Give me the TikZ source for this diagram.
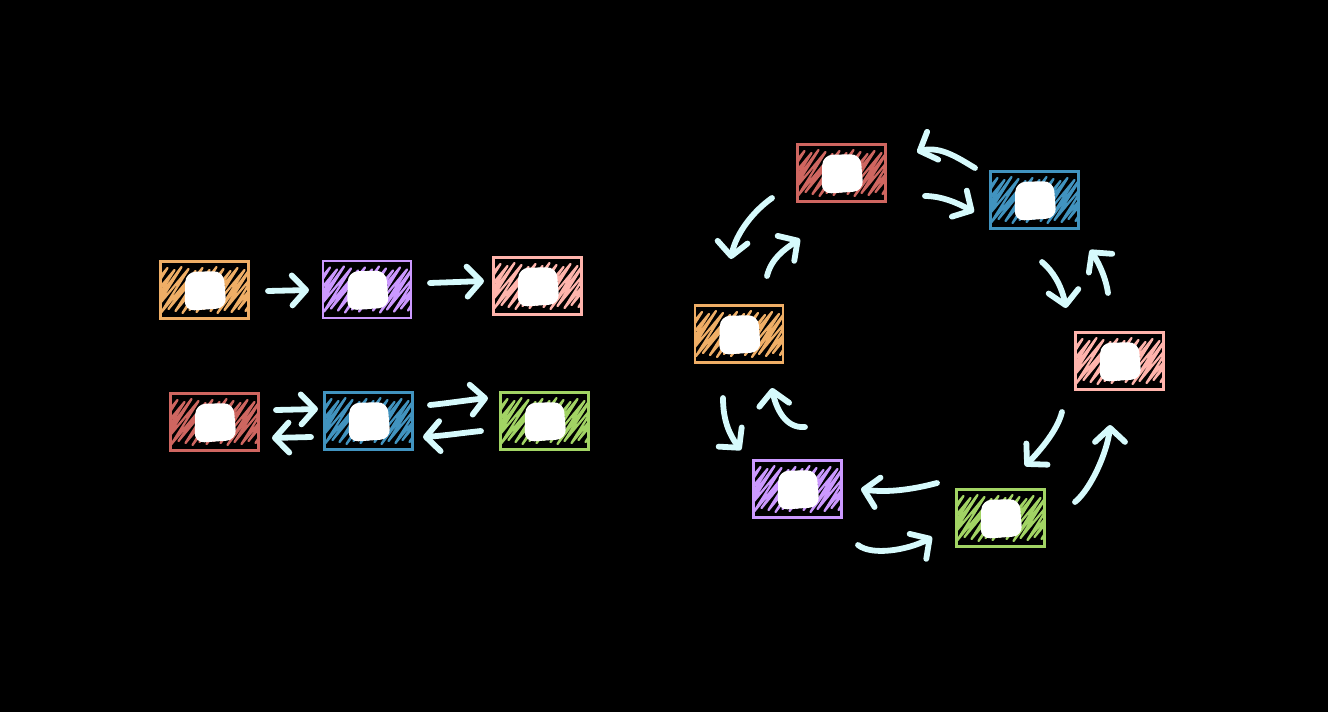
\documentclass[tikz,border=0pt]{standalone}
\usetikzlibrary{arrows.meta,bending}
\definecolor{cOr}{HTML}{EFAE66}
\definecolor{cPu}{HTML}{CC99FF}
\definecolor{cPk}{HTML}{FFB4AC}
\definecolor{cRd}{HTML}{CF6660}
\definecolor{cBl}{HTML}{4193BF}
\definecolor{cGr}{HTML}{A2D464}
\definecolor{cArr}{HTML}{D6FAFC}
\tikzset{
  sbox/.style={draw=#1, line width=2.8pt, minimum width=88pt, minimum height=57pt,
    inner sep=0pt, outer sep=0pt,
    path picture={\begin{scope}[shift={(path picture bounding box.center)}]
      \draw[#1, line width=2.3pt, line join=round, line cap=round]
        (-78,21) \foreach \i in {0,...,18}{ -- ({-78+7*\i+34},{-19-mod(\i*3,5)}) -- ({-78+7*\i+7},{19+mod(\i*2,5)}) };
      \fill[white, rounded corners=10pt] (-19,-18) -- (19,-19) -- (22,18) -- (-20,21) -- cycle;
    \end{scope}}},
  arr/.style={draw=cArr, line width=5.8pt, line cap=round,
    -{Straight Barb[round,length=14pt,width=30pt]}},
}
\begin{document}
\begin{tikzpicture}[x=1pt,y=-1pt]
\fill[black] (0,0) rectangle (1328,712);
\useasboundingbox (0,0) rectangle (1328,712);
% left group
\node[sbox=cOr] (L1) at (204.5,290) {};
\node[sbox=cPu] (L2) at (367,289.5) {};
\node[sbox=cPk] (L3) at (537.5,286) {};
\node[sbox=cRd] (L4) at (214.5,422) {};
\node[sbox=cBl] (L5) at (368.5,421) {};
\node[sbox=cGr] (L6) at (544.5,421) {};
% right cycle
\node[sbox=cRd] (R1) at (841.5,173) {};
\node[sbox=cBl] (R2) at (1034.5,200) {};
\node[sbox=cPk] (R3) at (1119.5,361) {};
\node[sbox=cGr] (R4) at (1000.5,518) {};
\node[sbox=cPu] (R5) at (797.5,489) {};
\node[sbox=cOr] (R6) at (739,334) {};
% arrow endpoints
\coordinate (a1s) at (268,291);  \coordinate (a1e) at (309,290);
\coordinate (a2s) at (430,283);  \coordinate (a2e) at (484,281);
\coordinate (a3s) at (276,410);  \coordinate (a3e) at (318,409);
\coordinate (a4s) at (311,437);  \coordinate (a4e) at (272,438);
\coordinate (a5s) at (430,405);  \coordinate (a5e) at (488,398);
\coordinate (a6s) at (481,431);  \coordinate (a6e) at (423,437);
\coordinate (b1s) at (975,168);  \coordinate (b1e) at (917,152);
\coordinate (b2s) at (925,196);  \coordinate (b2e) at (974,212);
\coordinate (b3s) at (772,198);  \coordinate (b3e) at (731,259);
\coordinate (b4s) at (767,276);  \coordinate (b4e) at (800,239);
\coordinate (b5s) at (1042,262); \coordinate (b5e) at (1066,308);
\coordinate (b6s) at (1108,293); \coordinate (b6e) at (1090,250);
\coordinate (b7s) at (1062,412); \coordinate (b7e) at (1025,466);
\coordinate (b8s) at (1075,502); \coordinate (b8e) at (1110,425);
\coordinate (b9s) at (723,398);  \coordinate (b9e) at (741,450);
\coordinate (b10s) at (805,427); \coordinate (b10e) at (772,388);
\coordinate (b11s) at (937,483); \coordinate (b11e) at (861,489);
\coordinate (b12s) at (858,545); \coordinate (b12e) at (932,537);
% left arrows
\draw[arr] (a1s) -- (a1e);
\draw[arr] (a2s) -- (a2e);
\draw[arr] (a3s) -- (a3e);
\draw[arr] (a4s) -- (a4e);
\draw[arr] (a5s) .. controls +(20,-2) and +(-20,2) .. (a5e);
\draw[arr] (a6s) .. controls +(-20,2) and +(20,-1) .. (a6e);
% cycle arrows
\draw[arr] (b1s) .. controls +(-20,-12) and +(20,-8) .. (b1e);
\draw[arr] (b2s) .. controls +(18,0) and +(-14,-8) .. (b2e);
\draw[arr] (b3s) .. controls +(-20,14) and +(2,-22) .. (b3e);
\draw[arr] (b4s) .. controls +(5,-20) and +(-12,8) .. (b4e);
\draw[arr] (b5s) .. controls +(12,10) and +(-3,-20) .. (b5e);
\draw[arr] (b6s) .. controls +(-2,-15) and +(8,10) .. (b6e);
\draw[arr] (b7s) .. controls +(-5,20) and +(12,-12) .. (b7e);
\draw[arr] (b8s) .. controls +(18,-15) and +(0,20) .. (b8e);
\draw[arr] (b9s) .. controls +(0,25) and +(-10,-12) .. (b9e);
\draw[arr] (b10s) .. controls +(-22,2) and +(2,15) .. (b10e);
\draw[arr] (b11s) .. controls +(-30,8) and +(20,4) .. (b11e);
\draw[arr] (b12s) .. controls +(15,12) and +(-18,12) .. (b12e);
\end{tikzpicture}
\end{document}
